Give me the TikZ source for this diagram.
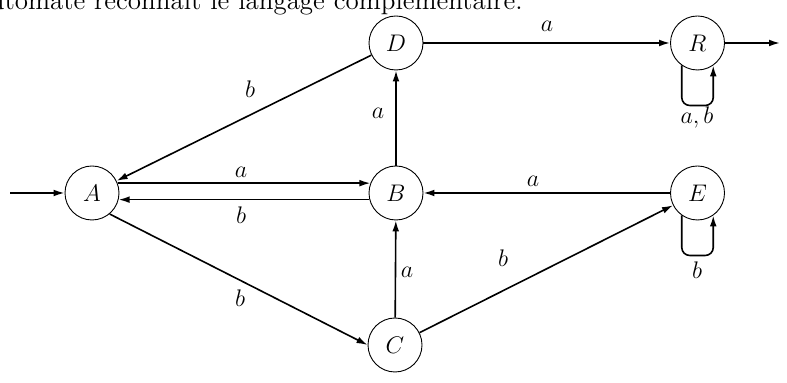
\documentclass[tikz,border=0pt]{standalone}
\usetikzlibrary{arrows.meta}
\begin{document}
\begin{tikzpicture}[x=0.5pt,y=-0.5pt,
 every node/.style={font=\fontsize{12}{14}\selectfont},
 state/.style={circle,draw,line width=0.45pt,minimum size=27pt,inner sep=0pt},
 edge/.style={line width=0.8pt,-{Latex[length=5.5pt,width=3.4pt]}},
 loopedge/.style={edge,rounded corners=4pt},
 lbl/.style={inner sep=0pt}]
\clip (0,0) rectangle (787,383);
\node[anchor=base east,inner sep=0pt,font=\fontsize{13.5}{16}\selectfont] (txt) at (523,10) {\makebox[273pt][s]{automate reconnaît le langage complémentaire.}};
\node[state] (A) at (92,193) {$A$};
\node[state] (B) at (396,193) {$B$};
\node[state] (D) at (396,43) {$D$};
\node[state] (C) at (395,345) {$C$};
\node[state] (R) at (697.5,43) {$R$};
\node[state] (E) at (697.5,193) {$E$};
\coordinate (init) at (10,193);
\coordinate (out) at (780,43);
\draw[edge] (init) -- (A);
\draw[edge] (A.21) -- (B.159);
\draw[edge] (B.-166) -- (A.-14);
\draw[edge] (D) -- (A);
\draw[edge] (B) -- (D);
\draw[edge] (A.-50) -- (C.180);
\draw[edge] (C) -- (B);
\draw[edge] (C) -- (E);
\draw[edge] (E) -- (B);
\draw[edge] (D) -- (R);
\draw[edge] (R) -- (out);
\draw[loopedge] (R.-125) -- ++(0,40) -| (R.-55);
\draw[loopedge] (E.-125) -- ++(0,40) -| (E.-55);
\node[lbl] (l1) at (241,172) {$a$};
\node[lbl] (l2) at (241,215) {$b$};
\node[lbl] (l3) at (250,89) {$b$};
\node[lbl] (l4) at (378,113) {$a$};
\node[lbl] (l5) at (240,298) {$b$};
\node[lbl] (l6) at (407,272) {$a$};
\node[lbl] (l7) at (503,258) {$b$};
\node[lbl] (l8) at (533,181) {$a$};
\node[lbl] (l9) at (547,26) {$a$};
\node[lbl] (l10) at (697,118) {$a,b$};
\node[lbl] (l11) at (697,270) {$b$};
\end{tikzpicture}
\end{document}
